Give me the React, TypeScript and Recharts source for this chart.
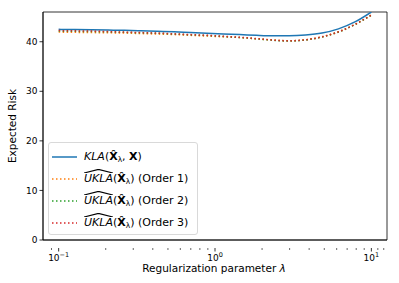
import { LineChart, Line, XAxis, YAxis, ReferenceArea } from 'recharts'

const lambdas = [
  0.1, 0.127, 0.162, 0.207, 0.264, 0.336, 0.428, 0.546, 0.695, 0.886, 1.129, 1.438,
  1.833, 2.336, 2.976, 3.793, 4.833, 6.158, 7.848, 10,
]
const kla = [
  42.5, 42.45, 42.4, 42.35, 42.3, 42.2, 42.1, 42.0, 41.85, 41.7, 41.55, 41.45, 41.3,
  41.2, 41.2, 41.35, 41.75, 42.6, 44.0, 46.0,
]
const order1 = [
  41.95, 41.9, 41.85, 41.8, 41.75, 41.65, 41.55, 41.45, 41.3, 41.15, 41.0, 40.85,
  40.6, 40.35, 40.2, 40.4, 41.0, 42.0, 43.5, 45.4,
]
const order2 = [
  42.15, 42.1, 42.05, 42.0, 41.9, 41.8, 41.7, 41.55, 41.4, 41.25, 41.05, 40.85,
  40.6, 40.3, 40.15, 40.35, 40.95, 41.95, 43.45, 45.35,
]
const order3 = [
  42.25, 42.2, 42.15, 42.05, 41.95, 41.85, 41.75, 41.6, 41.45, 41.3, 41.1, 40.9,
  40.65, 40.35, 40.2, 40.4, 41.0, 42.0, 43.5, 45.4,
]
const xTicks = [
  0.09, 0.1, 0.2, 0.3, 0.4, 0.5, 0.6, 0.7, 0.8, 0.9, 1, 2, 3, 4, 5, 6, 7, 8, 9, 10, 11, 12,
]
const majorTicks: Record<number, string> = { 0.1: '−1', 1: '0', 10: '1' }
const yTicks = [0, 10, 20, 30, 40]
const xDomain = [0.0794, 12.59]
const yDomain = [0, 46]

const data = lambdas.map((l, i) => ({
  l,
  kla: kla[i],
  o1: order1[i],
  o2: order2[i],
  o3: order3[i],
}))

const font = '"DejaVu Sans", sans-serif'
const dotted = '1.5 2.5'

function XTick({ x, y, payload }: any) {
  const exp = majorTicks[payload.value]
  if (exp === undefined) {
    return <line x1={x} x2={x} y1={y} y2={y + 2} stroke="#000" strokeWidth={0.6} />
  }
  return (
    <g>
      <line x1={x} x2={x} y1={y} y2={y + 3.5} stroke="#000" strokeWidth={0.8} />
      <text x={x} y={y + 13} textAnchor="middle" fontSize={9} fill="#000" fontFamily={font}>
        10
        <tspan dy={-4} fontSize={6.5}>
          {exp}
        </tspan>
      </text>
    </g>
  )
}

function Hat({ children }: { children: any }) {
  return (
    <span style={{ position: 'relative', display: 'inline-block' }}>
      <svg
        viewBox="0 0 100 10"
        preserveAspectRatio="none"
        style={{ position: 'absolute', left: 0, top: -3, width: '100%', height: 4 }}
      >
        <polyline points="0,10 50,1 100,10" fill="none" stroke="#000" strokeWidth={1.2} vectorEffect="non-scaling-stroke" />
      </svg>
      {children}
    </span>
  )
}

const Xhat = () => (
  <span>
    <b>X̂</b>
    <sub style={{ fontSize: 7.5, verticalAlign: -2 }}>λ</sub>
  </span>
)

const legendItems = [
  { color: '#1f77b4', dash: undefined, label: <><i>KLA</i>(<Xhat />, <b>X</b>)</> },
  { color: '#ff7f0e', dash: dotted, label: <><Hat><i>UKLA</i></Hat>(<Xhat />) (Order 1)</> },
  { color: '#2ca02c', dash: dotted, label: <><Hat><i>UKLA</i></Hat>(<Xhat />) (Order 2)</> },
  { color: '#d62728', dash: dotted, label: <><Hat><i>UKLA</i></Hat>(<Xhat />) (Order 3)</> },
]

function LegendBox() {
  return (
    <div
      style={{
        position: 'absolute',
        left: 48,
        top: 142,
        boxSizing: 'border-box',
        width: 150,
        height: 93,
        border: '1px solid #d9d9d9',
        borderRadius: 3,
        background: 'rgba(255,255,255,0.8)',
        padding: '3px 2px 0 2px',
        fontFamily: font,
        fontSize: 11,
        color: '#000',
      }}
    >
      {legendItems.map((it, i) => (
        <div key={i} style={{ display: 'flex', alignItems: 'center', height: 22 }}>
          <svg width={29} height={6} style={{ flexShrink: 0 }}>
            <line x1={1} x2={26} y1={3} y2={3} stroke={it.color} strokeWidth={1.5} strokeDasharray={it.dash} />
          </svg>
          <span style={{ whiteSpace: 'nowrap', marginLeft: 4 }}>{it.label}</span>
        </div>
      ))}
    </div>
  )
}

export default function App() {
  return (
    <div style={{ position: 'fixed', left: 0, top: 0, width: 399, height: 283, background: '#fff' }}>
      <LineChart width={399} height={283} data={data} margin={{ top: 12, right: 12, bottom: 0, left: 0 }}>
        <XAxis
          dataKey="l"
          type="number"
          scale="log"
          domain={xDomain}
          allowDataOverflow
          ticks={xTicks}
          interval={0}
          tick={<XTick />}
          tickLine={false}
          axisLine={{ stroke: '#000', strokeWidth: 0.8 }}
          height={43}
          label={{
            content: () => (
              <text x={214} y={272} textAnchor="middle" fontSize={10.5} fontFamily={font} fill="#000">
                Regularization parameter <tspan fontStyle="italic">λ</tspan>
              </text>
            ),
          }}
        />
        <YAxis
          type="number"
          domain={yDomain}
          ticks={yTicks}
          allowDataOverflow
          width={43}
          tickSize={3.5}
          tickLine={{ stroke: '#000', strokeWidth: 0.8 }}
          axisLine={{ stroke: '#000', strokeWidth: 0.8 }}
          tick={{ fontSize: 9, fill: '#000', fontFamily: font }}
          label={{
            content: () => (
              <text
                x={16}
                y={126}
                textAnchor="middle"
                fontSize={10.5}
                fontFamily={font}
                fill="#000"
                transform="rotate(-90 16 126)"
              >
                Expected Risk
              </text>
            ),
          }}
        />
        <ReferenceArea
          x1={xDomain[0]}
          x2={xDomain[1]}
          y1={yDomain[0]}
          y2={yDomain[1]}
          fill="none"
          fillOpacity={0}
          stroke="#000"
          strokeWidth={0.8}
          ifOverflow="visible"
        />
        <Line dataKey="kla" type="monotone" stroke="#1f77b4" strokeWidth={1.5} dot={false} isAnimationActive={false} />
        <Line dataKey="o1" type="monotone" stroke="#ff7f0e" strokeWidth={1.5} strokeDasharray={dotted} dot={false} isAnimationActive={false} />
        <Line dataKey="o2" type="monotone" stroke="#2ca02c" strokeWidth={1.5} strokeDasharray={dotted} dot={false} isAnimationActive={false} />
        <Line dataKey="o3" type="monotone" stroke="#d62728" strokeWidth={1.5} strokeDasharray={dotted} dot={false} isAnimationActive={false} />
      </LineChart>
      <LegendBox />
    </div>
  )
}
